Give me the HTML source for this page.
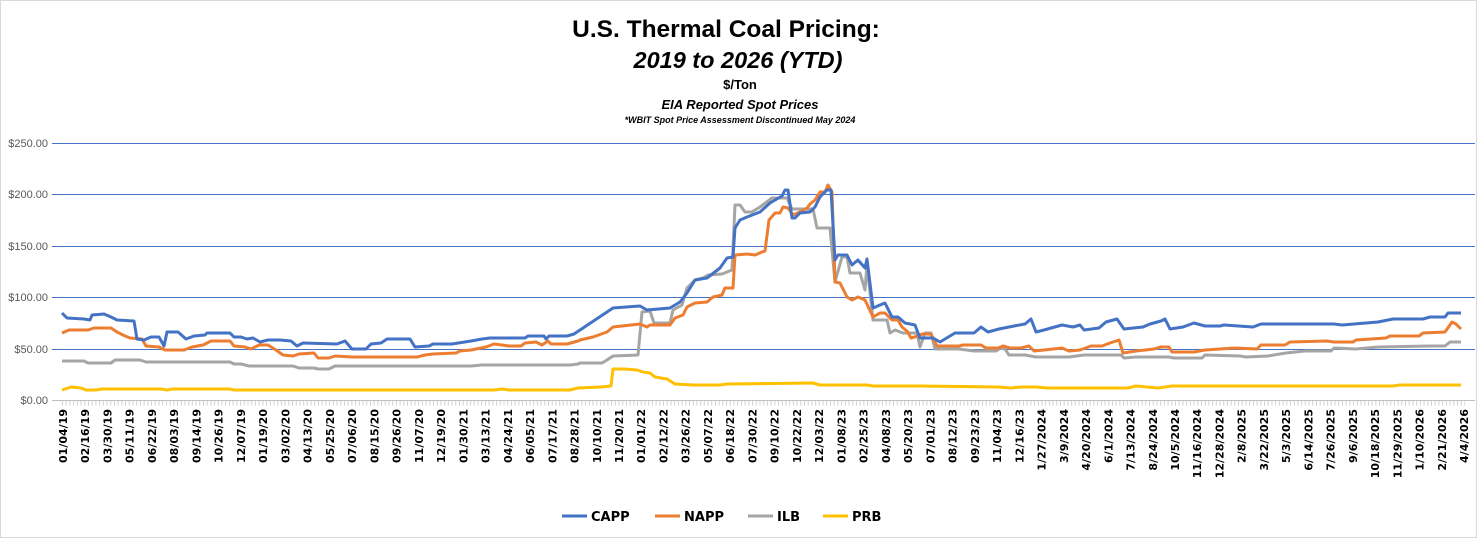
<!DOCTYPE html>
<html><head><meta charset="utf-8"><style>
html,body{margin:0;padding:0;background:#fff;}
svg{display:block;font-family:"Liberation Sans",sans-serif;}
</style></head><body>
<svg width="1477" height="538" viewBox="0 0 1477 538" xmlns="http://www.w3.org/2000/svg">
<rect x="0.5" y="0.5" width="1476" height="537" fill="#fff" stroke="#d9d9d9"/>
<g text-anchor="middle" font-weight="bold" fill="#000">
<text x="726" y="37" font-size="24.5">U.S. Thermal Coal Pricing:</text>
<text x="738" y="68" font-size="23.5" font-style="italic">2019 to 2026 (YTD)</text>
<text x="740" y="89" font-size="13">$/Ton</text>
<text x="740" y="109" font-size="13" font-style="italic">EIA Reported Spot Prices</text>
<text x="740" y="123" font-size="9" font-style="italic">*WBIT Spot Price Assessment Discontinued May 2024</text>
</g>
<g stroke="#4472c4" stroke-width="1">
<line x1="52" y1="143.5" x2="1475" y2="143.5"/>
<line x1="52" y1="194.5" x2="1475" y2="194.5"/>
<line x1="52" y1="246.5" x2="1475" y2="246.5"/>
<line x1="52" y1="297.5" x2="1475" y2="297.5"/>
<line x1="52" y1="349.5" x2="1475" y2="349.5"/>
</g>
<line x1="52" y1="400.5" x2="1475" y2="400.5" stroke="#bfbfbf"/>
<line x1="62" y1="403" x2="1465" y2="403" stroke="#d0d0d0" stroke-width="5" stroke-dasharray="1 2.71"/>
<g font-size="11" fill="#595959" text-anchor="end">
<text x="48" y="147">$250.00</text>
<text x="48" y="198">$200.00</text>
<text x="48" y="250">$150.00</text>
<text x="48" y="301">$100.00</text>
<text x="48" y="353">$50.00</text>
<text x="48" y="404">$0.00</text>
</g>
<g fill="none" stroke-width="3" stroke-linejoin="round">
<polyline stroke="#a5a5a5" points="62,361 84,361 88,363 111,363 115,360 140,360 146,362 230,362 234,364 241,364 249,366 257,366 260,366 293,366 299,368 314,368 318,369 329,369 335,366 471,366 482,365 570,365 578,364 580,363 602,363 607,360 613,356 638,355 642,312 650,311 654,323 670,323 673,310 682,305 687,288 695,280 703,278 708,275 722,274 732,270 735,205 740,205 745,212 752,212 760,207 772,198 787,198 792,209 813,209 817,228 830,228 835,282 842,257 847,257 850,273 860,273 865,290 867,265 873,320 887,320 890,333 895,330 903,333 907,333 917,333 920,347 925,333 931,333 935,349 959,349 974,351 996,351 1001,348 1005,349 1009,355 1025,355 1036,357 1069,357 1084,355 1121,355 1124,358 1136,357 1169,357 1174,358 1202,358 1205,355 1240,356 1246,357 1268,356 1286,353 1305,351 1331,351 1334,348 1356,349 1378,347 1430,346 1445,346 1450,342 1461,342"/>
<polyline stroke="#ed7d31" points="62,333 69,330 88,330 94,328 111,328 117,332 123,335 130,338 142,339 146,346 159,347 165,350 184,350 192,347 203,345 211,341 230,341 234,346 245,347 251,349 259,345 268,345 276,350 283,355 293,356 299,354 314,353 318,358 329,358 335,356 352,357 417,357 425,355 433,354 456,353 460,351 471,350 486,347 494,344 502,345 509,346 521,346 525,343 536,342 542,345 548,341 551,344 567,344 578,341 580,340 593,337 607,332 613,327 640,324 647,327 650,325 670,325 675,318 683,315 687,307 695,303 707,302 713,297 722,295 725,288 733,288 735,255 747,254 755,255 762,252 765,251 769,220 775,213 780,213 783,207 788,208 793,215 800,212 807,208 810,204 815,200 820,192 825,192 828,185 832,192 835,282 840,283 847,297 852,300 858,297 865,300 873,317 880,313 885,313 892,320 898,320 902,327 907,331 911,338 918,336 922,334 931,334 937,346 959,346 963,345 981,345 986,348 998,348 1003,346 1010,348 1021,348 1029,346 1034,351 1044,350 1062,348 1069,351 1080,350 1091,346 1102,346 1110,343 1119,340 1123,353 1136,351 1154,349 1161,347 1169,347 1172,352 1194,352 1205,350 1220,349 1235,348 1257,349 1261,345 1285,345 1290,342 1327,341 1334,342 1353,342 1356,340 1386,338 1390,336 1419,336 1423,333 1445,332 1452,322 1456,324 1461,329"/>
<polyline stroke="#4472c4" points="62,313 67,318 84,319 90,320 92,315 104,314 111,317 117,320 134,321 137,339 144,340 151,337 159,337 164,346 167,332 178,332 186,339 194,336 205,335 207,333 230,333 234,337 241,337 247,339 253,338 260,342 268,340 280,340 291,341 297,346 303,343 337,344 345,341 352,349 366,349 371,344 381,343 387,339 410,339 415,347 429,346 433,344 452,344 471,341 482,339 490,338 525,338 528,336 544,336 546,339 549,336 567,336 574,334 580,330 613,308 640,306 647,310 670,308 680,302 687,293 695,280 707,278 720,268 727,258 733,257 735,228 740,220 747,217 760,212 770,203 782,196 785,190 788,190 792,218 795,218 800,213 810,212 815,207 820,197 827,190 831,190 835,260 838,255 847,255 852,265 858,260 865,268 867,259 873,308 880,305 885,303 892,317 898,317 905,323 915,325 920,338 933,338 940,342 955,333 974,333 981,327 988,332 999,329 1014,326 1025,324 1031,319 1036,332 1044,330 1062,325 1073,327 1080,325 1084,330 1099,328 1106,322 1117,319 1124,329 1143,327 1150,324 1161,321 1165,319 1170,329 1183,327 1194,323 1205,326 1220,326 1224,325 1253,327 1261,324 1334,324 1342,325 1378,322 1393,319 1423,319 1430,317 1445,317 1448,313 1461,313"/>
<polyline stroke="#ffc000" points="62,390 71,387 81,388 86,390 96,390 102,389 161,389 167,390 172,389 230,389 234,390 494,390 502,389 509,390 570,390 578,388 601,387 611,386 613,369 624,369 637,370 643,372 650,373 655,377 667,379 675,384 693,385 720,385 727,384 813,383 820,385 867,385 873,386 920,386 999,387 1010,388 1021,387 1036,387 1047,388 1128,388 1136,386 1158,388 1172,386 1393,386 1400,385 1461,385"/>
</g>
<g font-size="13" font-weight="bold" fill="#000" font-family="DejaVu Sans, sans-serif">
<line x1="562" y1="516" x2="587" y2="516" stroke="#4472c4" stroke-width="3"/><text x="591" y="521">CAPP</text>
<line x1="655" y1="516" x2="680" y2="516" stroke="#ed7d31" stroke-width="3"/><text x="684" y="521">NAPP</text>
<line x1="748" y1="516" x2="773" y2="516" stroke="#a5a5a5" stroke-width="3"/><text x="777" y="521">ILB</text>
<line x1="823" y1="516" x2="848" y2="516" stroke="#ffc000" stroke-width="3"/><text x="852" y="521">PRB</text>
</g>
<g font-size="11" font-weight="bold" fill="#000" text-anchor="end" font-family="DejaVu Sans, sans-serif">
<text transform="translate(67.0,409) rotate(-90)">01/04/19</text>
<text transform="translate(89.2,409) rotate(-90)">02/16/19</text>
<text transform="translate(111.5,409) rotate(-90)">03/30/19</text>
<text transform="translate(133.7,409) rotate(-90)">05/11/19</text>
<text transform="translate(156.0,409) rotate(-90)">06/22/19</text>
<text transform="translate(178.2,409) rotate(-90)">08/03/19</text>
<text transform="translate(200.4,409) rotate(-90)">09/14/19</text>
<text transform="translate(222.7,409) rotate(-90)">10/26/19</text>
<text transform="translate(244.9,409) rotate(-90)">12/07/19</text>
<text transform="translate(267.2,409) rotate(-90)">01/19/20</text>
<text transform="translate(289.4,409) rotate(-90)">03/02/20</text>
<text transform="translate(311.6,409) rotate(-90)">04/13/20</text>
<text transform="translate(333.9,409) rotate(-90)">05/25/20</text>
<text transform="translate(356.1,409) rotate(-90)">07/06/20</text>
<text transform="translate(378.4,409) rotate(-90)">08/15/20</text>
<text transform="translate(400.6,409) rotate(-90)">09/26/20</text>
<text transform="translate(422.8,409) rotate(-90)">11/07/20</text>
<text transform="translate(445.1,409) rotate(-90)">12/19/20</text>
<text transform="translate(467.3,409) rotate(-90)">01/30/21</text>
<text transform="translate(489.6,409) rotate(-90)">03/13/21</text>
<text transform="translate(511.8,409) rotate(-90)">04/24/21</text>
<text transform="translate(534.0,409) rotate(-90)">06/05/21</text>
<text transform="translate(556.3,409) rotate(-90)">07/17/21</text>
<text transform="translate(578.5,409) rotate(-90)">08/28/21</text>
<text transform="translate(600.8,409) rotate(-90)">10/10/21</text>
<text transform="translate(623.0,409) rotate(-90)">11/20/21</text>
<text transform="translate(645.2,409) rotate(-90)">01/01/22</text>
<text transform="translate(667.5,409) rotate(-90)">02/12/22</text>
<text transform="translate(689.7,409) rotate(-90)">03/26/22</text>
<text transform="translate(712.0,409) rotate(-90)">05/07/22</text>
<text transform="translate(734.2,409) rotate(-90)">06/18/22</text>
<text transform="translate(756.4,409) rotate(-90)">07/30/22</text>
<text transform="translate(778.7,409) rotate(-90)">09/10/22</text>
<text transform="translate(800.9,409) rotate(-90)">10/22/22</text>
<text transform="translate(823.2,409) rotate(-90)">12/03/22</text>
<text transform="translate(845.4,409) rotate(-90)">01/08/23</text>
<text transform="translate(867.6,409) rotate(-90)">02/25/23</text>
<text transform="translate(889.9,409) rotate(-90)">04/08/23</text>
<text transform="translate(912.1,409) rotate(-90)">05/20/23</text>
<text transform="translate(934.4,409) rotate(-90)">07/01/23</text>
<text transform="translate(956.6,409) rotate(-90)">08/12/23</text>
<text transform="translate(978.8,409) rotate(-90)">09/23/23</text>
<text transform="translate(1001.1,409) rotate(-90)">11/04/23</text>
<text transform="translate(1023.3,409) rotate(-90)">12/16/23</text>
<text transform="translate(1045.6,409) rotate(-90)">1/27/2024</text>
<text transform="translate(1067.8,409) rotate(-90)">3/9/2024</text>
<text transform="translate(1090.0,409) rotate(-90)">4/20/2024</text>
<text transform="translate(1112.3,409) rotate(-90)">6/1/2024</text>
<text transform="translate(1134.5,409) rotate(-90)">7/13/2024</text>
<text transform="translate(1156.8,409) rotate(-90)">8/24/2024</text>
<text transform="translate(1179.0,409) rotate(-90)">10/5/2024</text>
<text transform="translate(1201.2,409) rotate(-90)">11/16/2024</text>
<text transform="translate(1223.5,409) rotate(-90)">12/28/2024</text>
<text transform="translate(1245.7,409) rotate(-90)">2/8/2025</text>
<text transform="translate(1268.0,409) rotate(-90)">3/22/2025</text>
<text transform="translate(1290.2,409) rotate(-90)">5/3/2025</text>
<text transform="translate(1312.4,409) rotate(-90)">6/14/2025</text>
<text transform="translate(1334.7,409) rotate(-90)">7/26/2025</text>
<text transform="translate(1356.9,409) rotate(-90)">9/6/2025</text>
<text transform="translate(1379.2,409) rotate(-90)">10/18/2025</text>
<text transform="translate(1401.4,409) rotate(-90)">11/29/2025</text>
<text transform="translate(1423.6,409) rotate(-90)">1/10/2026</text>
<text transform="translate(1445.9,409) rotate(-90)">2/21/2026</text>
<text transform="translate(1468.1,409) rotate(-90)">4/4/2026</text>
</g>
</svg>
</body></html>
